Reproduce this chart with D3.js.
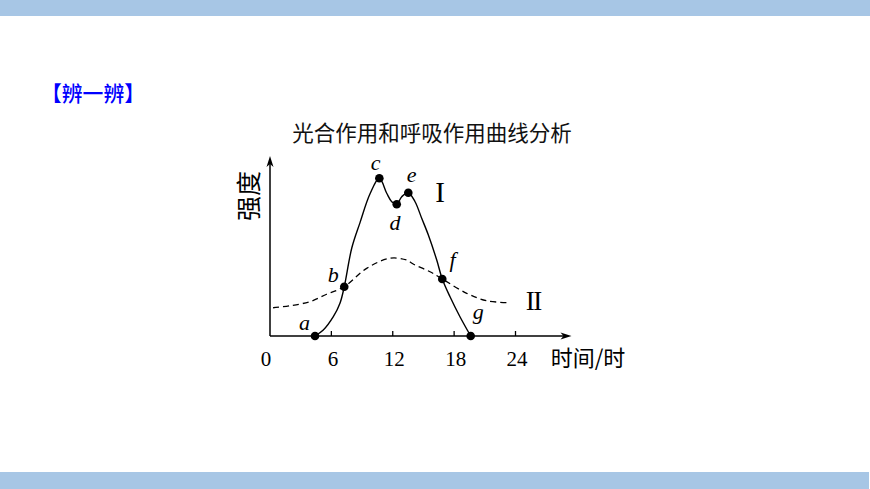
<!DOCTYPE html>
<html><head><meta charset="utf-8">
<script src="https://cdn.jsdelivr.net/npm/d3@7"></script>
<style>html,body{margin:0;padding:0;background:#fff;overflow:hidden}</style>
</head><body>
<svg id="c" width="870" height="489"></svg>
<script>
// ---- data ----
const titleText = "光合作用和呼吸作用曲线分析";
const headerText = "【辨一辨】";
const yLabel = "强度";
const xLabel = "时间/时";
const xTicks = [0, 6, 12, 18, 24];
const xTickLabels = ["0", "6", "12", "18", "24"];
// Curve I (photosynthesis): [hour, intensity]
const curveI = [
  [4.4, 0], [5.21, 0.33], [6.19, 1.07], [6.84, 1.82], [7.26, 2.74],
  [8.0, 4.9], [8.8, 6.3], [9.78, 7.9], [10.69, 8.76],
  [11.41, 7.93], [11.9, 7.46], [12.39, 7.32], [12.88, 7.74], [13.52, 7.96],
  [14.18, 7.46], [14.83, 6.54], [15.48, 5.61], [16.3, 4.22], [16.84, 3.17],
  [17.6, 2.18], [18.57, 1.07], [19.62, 0]
];
// Curve II (respiration)
const curveII = [
  [0.3, 1.57], [1.96, 1.68], [3.91, 1.91], [5.54, 2.32], [7.26, 2.74],
  [9.45, 3.76], [11.73, 4.32], [13.36, 4.22], [14.0, 4.0], [15.64, 3.57],
  [16.84, 3.17], [19.23, 2.37], [21.18, 1.96], [23.46, 1.85]
];
const keyNames = ["a", "b", "c", "d", "e", "f", "g"];
const keyPoints = [[4.4, 0], [7.26, 2.74], [10.69, 8.76], [12.39, 7.32], [13.52, 7.96], [16.84, 3.17], [19.62, 0]];
const seriesNames = ["I", "II"];

// ---- drawing ----
const svg = d3.select("#c");
const x = d3.scaleLinear().domain([0, 24]).range([270, 515.5]);
const y = d3.scaleLinear().domain([0, 10]).range([336, 156]);

svg.append("rect").attr("x", 0).attr("y", 0).attr("width", 870).attr("height", 16).attr("fill", "#A7C6E5");
svg.append("rect").attr("x", 0).attr("y", 472).attr("width", 869).attr("height", 17).attr("fill", "#A7C6E5");

svg.append("text").attr("x", 41).attr("y", 100.5)
  .attr("font-family", "'Noto Sans CJK SC'").attr("font-size", 21).attr("font-weight", 500)
  .attr("textLength", 104).attr("lengthAdjust", "spacingAndGlyphs")
  .attr("fill", "#0000FF").text(headerText);

svg.append("text").attr("x", 432).attr("y", 140.5).attr("text-anchor", "middle")
  .attr("font-family", "'Noto Sans CJK SC'").attr("font-size", 21.5).attr("fill", "#111").text(titleText);

// axes
const axisG = svg.append("g").attr("stroke", "#000").attr("stroke-width", 1.5).attr("fill", "none");
axisG.append("line").attr("x1", x(0)).attr("y1", y(0)).attr("x2", 566).attr("y2", y(0));
axisG.append("line").attr("x1", x(0)).attr("y1", y(0)).attr("x2", x(0)).attr("y2", 161);
svg.append("path").attr("d", `M571.5,${y(0)} L560.5,${y(0)-3.5} L563.5,${y(0)} L560.5,${y(0)+3.5} Z`).attr("fill", "#000");
svg.append("path").attr("d", `M${x(0)},156 L${x(0)-3.5},167 L${x(0)},164 L${x(0)+3.5},167 Z`).attr("fill", "#000");

xTicks.slice(1).forEach(t => {
  svg.append("line").attr("x1", x(t)).attr("x2", x(t)).attr("y1", y(0)).attr("y2", y(0) - 5)
    .attr("stroke", "#000").attr("stroke-width", 1.3);
});
xTicks.forEach((t, i) => {
  svg.append("text").attr("x", x(t) + (i === 0 ? -4 : 1.5)).attr("y", 365.5).attr("text-anchor", "middle")
    .attr("font-family", "'Liberation Serif'").attr("font-size", 21).attr("fill", "#000").text(xTickLabels[i]);
});

svg.append("text").attr("x", 588).attr("y", 365.5).attr("text-anchor", "middle")
  .attr("font-family", "'Noto Sans CJK SC'").attr("font-size", 22).attr("fill", "#000").text(xLabel);

svg.append("text").attr("transform", "translate(257.5,196) rotate(-90)").attr("text-anchor", "middle")
  .attr("font-family", "'Noto Sans CJK SC'").attr("font-size", 25).attr("fill", "#000").text(yLabel);

// curves
const line = d3.line().x(d => x(d[0])).y(d => y(d[1])).curve(d3.curveCatmullRom.alpha(0.5));
svg.append("path").attr("d", line(curveII)).attr("fill", "none").attr("stroke", "#000")
  .attr("stroke-width", 1.3).attr("stroke-dasharray", "6,4");
svg.append("path").attr("d", line(curveI)).attr("fill", "none").attr("stroke", "#000").attr("stroke-width", 1.4);

svg.selectAll("circle.k").data(keyPoints).enter().append("circle")
  .attr("cx", d => x(d[0])).attr("cy", d => y(d[1])).attr("r", 4.3).attr("fill", "#000");

const labelOff = {a: [-10.5, -6.5], b: [-11, -4.8], c: [-3.6, -8.8], d: [-1.7, 26], e: [3.4, -10.8], f: [10.4, -11.5], g: [7.6, -17.5]};
keyPoints.forEach((p, i) => {
  const n = keyNames[i];
  svg.append("text").attr("x", x(p[0]) + labelOff[n][0]).attr("y", y(p[1]) + labelOff[n][1])
    .attr("text-anchor", "middle").attr("font-family", "'Liberation Serif'").attr("font-style", "italic")
    .attr("font-size", 22).attr("fill", "#000").text(n);
});

svg.append("text").attr("x", 440).attr("y", 202).attr("text-anchor", "middle")
  .attr("font-family", "'Liberation Serif'").attr("font-size", 29).attr("fill", "#000").text(seriesNames[0]);
svg.append("text").attr("x", 533.3).attr("y", 310).attr("text-anchor", "middle")
  .attr("font-family", "'Liberation Serif'").attr("font-size", 27).attr("letter-spacing", -1.5).attr("fill", "#000").text(seriesNames[1]);
</script>
</body></html>
